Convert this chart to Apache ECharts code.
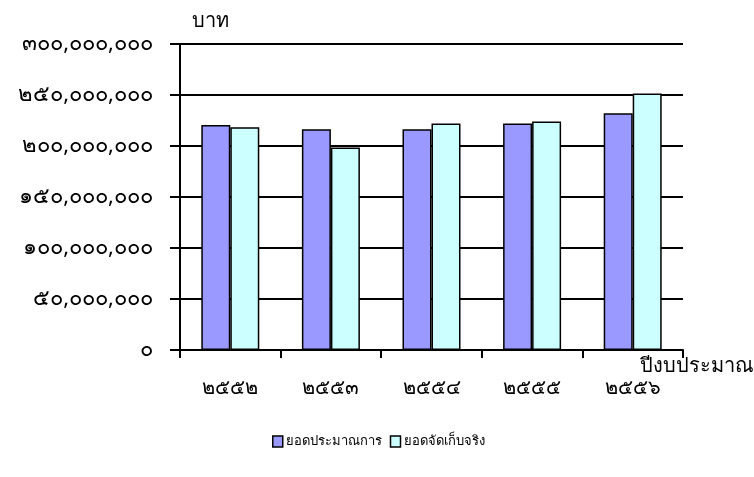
<!DOCTYPE html>
<html><head><meta charset="utf-8">
<script src="https://cdn.jsdelivr.net/npm/echarts@6/dist/echarts.min.js"></script>
<style>html,body{margin:0;padding:0;background:#fff;}#c{width:754px;height:477px;}</style>
</head><body><div id="c"></div>
<script>
var categories = ['๒๕๕๒', '๒๕๕๓', '๒๕๕๔', '๒๕๕๕', '๒๕๕๖'];
var estimateValues = [220500000, 216500000, 216500000, 222000000, 232000000];
var actualValues = [218500000, 198500000, 222000000, 224000000, 251500000];
var yTickLabels = ['๐', '๕๐,๐๐๐,๐๐๐', '๑๐๐,๐๐๐,๐๐๐', '๑๕๐,๐๐๐,๐๐๐', '๒๐๐,๐๐๐,๐๐๐', '๒๕๐,๐๐๐,๐๐๐', '๓๐๐,๐๐๐,๐๐๐'];
var seriesNames = ['ยอดประมาณการ', 'ยอดจัดเก็บจริง'];
var yAxisName = 'บาท';
var xAxisName = 'ปีงบประมาณ';

var FONT = 'Tahoma, "Noto Sans", "DejaVu Sans", sans-serif';
var chart = echarts.init(document.getElementById('c'));
chart.setOption({
  animation: false,
  textStyle: {fontFamily: FONT},
  grid: {left: 180, right: 71, top: 44, bottom: 127},
  legend: {
    data: seriesNames, left: 267, top: 430, itemWidth: 10, itemHeight: 11, itemGap: 8,
    icon: 'rect',
    textStyle: {fontFamily: FONT, fontSize: 13, color: '#000', padding: [0, 0, 0, -2]},
    itemStyle: {borderColor: '#000', borderWidth: 1.5}
  },
  graphic: [
    {type: 'text', left: 192, top: 11, style: {text: yAxisName, font: '20px ' + FONT, fill: '#000'}},
    {type: 'text', right: 0, top: 356, style: {text: xAxisName, font: '20px ' + FONT, fill: '#000'}}
  ],
  xAxis: {
    type: 'category', data: categories,
    axisLine: {lineStyle: {color: '#000', width: 2}},
    axisTick: {show: true, length: 8, lineStyle: {color: '#000', width: 2}},
    axisLabel: {color: '#000', fontSize: 20, margin: 28, fontFamily: FONT}
  },
  yAxis: {
    type: 'value', min: 0, max: 300000000, interval: 50000000,
    axisLine: {show: true, lineStyle: {color: '#000', width: 2}},
    axisTick: {show: true, length: 10, lineStyle: {color: '#000', width: 2}},
    axisLabel: {color: '#000', fontSize: 22, margin: 27, fontFamily: FONT,
      formatter: function (v) { return yTickLabels[Math.round(v / 50000000)]; }},
    splitLine: {show: true, lineStyle: {color: '#000', width: 2}}
  },
  series: [
    {name: seriesNames[0], type: 'bar', data: estimateValues, barWidth: 29, barGap: '0%',
     itemStyle: {color: '#9999FF', borderColor: '#000', borderWidth: 1.5}},
    {name: seriesNames[1], type: 'bar', data: actualValues, barWidth: 29,
     itemStyle: {color: '#CCFFFF', borderColor: '#000', borderWidth: 1.5}}
  ]
});
</script></body></html>
